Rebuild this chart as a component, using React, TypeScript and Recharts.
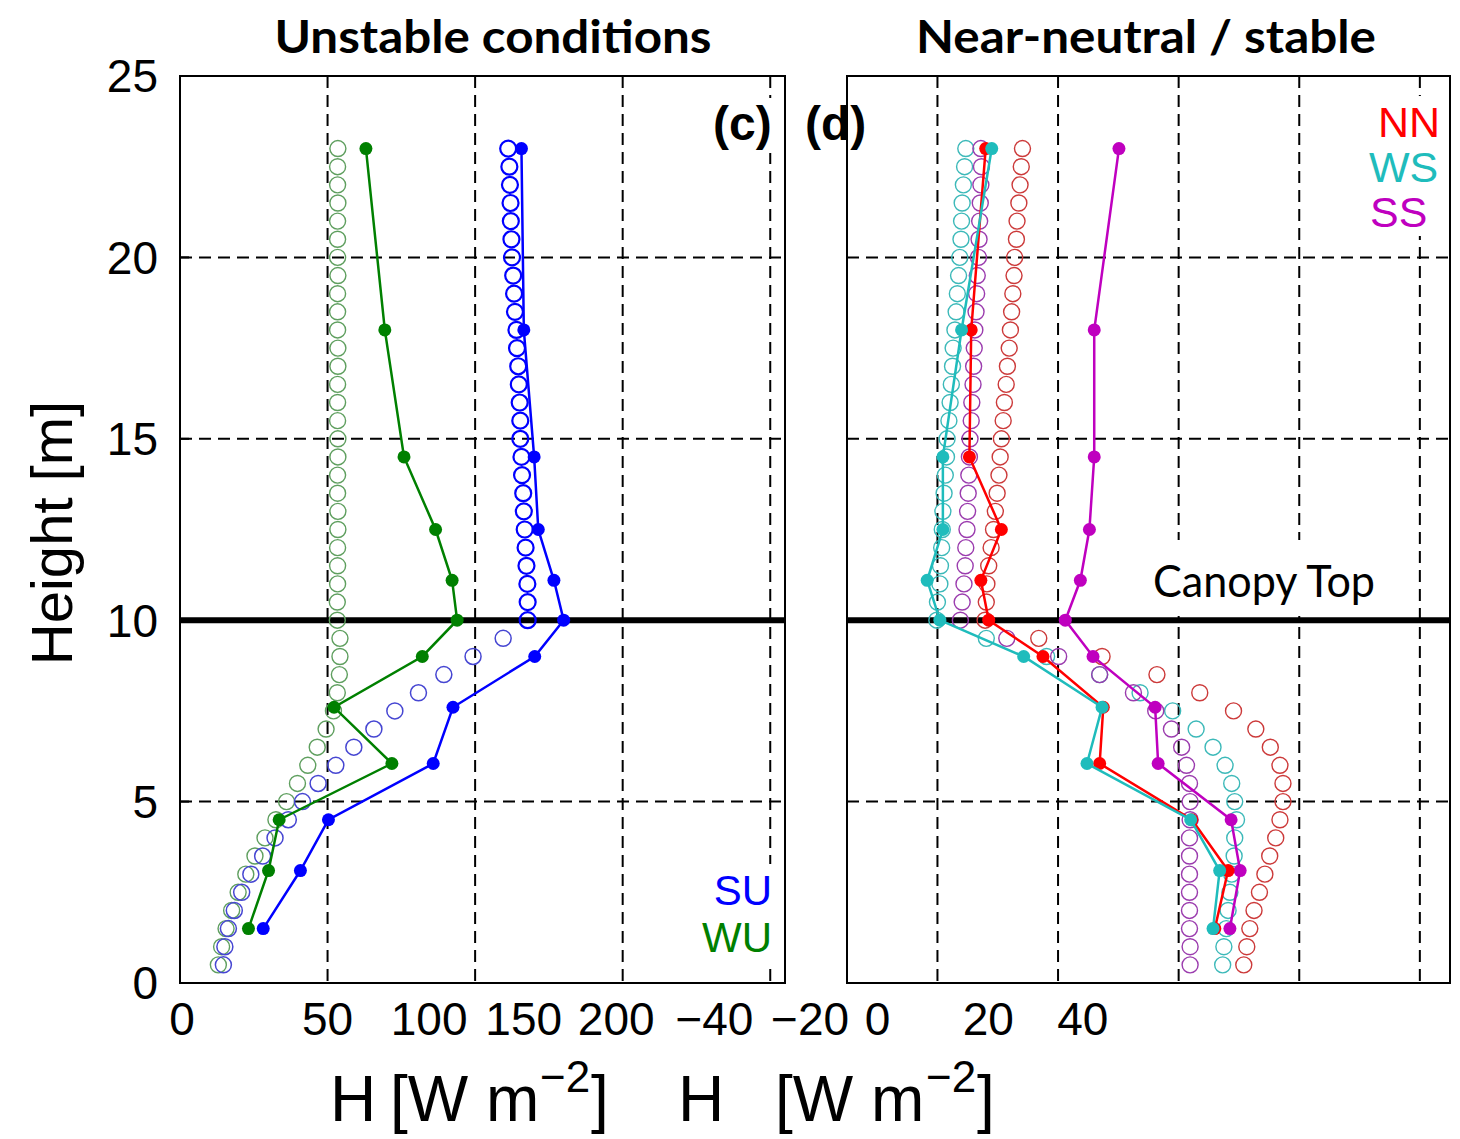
import React from 'react';
import {
  ScatterChart,
  Scatter,
  XAxis,
  YAxis,
  CartesianGrid,
  ReferenceLine,
  ReferenceArea,
} from 'recharts';

// heights [m] of the tower levels (filled, joined markers)
const profileHeights = [1.5, 3.1, 4.5, 6.05, 7.6, 9, 10, 11.1, 12.5, 14.5, 18, 23];
// heights [m] of the model levels (open markers)
const fineHeights = [
  0.5, 1, 1.5, 2, 2.5, 3, 3.5, 4, 4.5, 5, 5.5, 6, 6.5, 7, 7.5, 8, 8.5, 9, 9.5, 10, 10.5,
  11, 11.5, 12, 12.5, 13, 13.5, 14, 14.5, 15, 15.5, 16, 16.5, 17, 17.5, 18, 18.5, 19, 19.5,
  20, 20.5, 21, 21.5, 22, 22.5, 23,
];

// (c) unstable, H [W m-2]
const suProfile = [28.2, 40.8, 50.3, 85.8, 92.5, 120.2, 130.0, 126.7, 121.4, 120.0, 116.5, 115.7];
const wuProfile = [23.2, 30.0, 33.6, 71.8, 52.2, 82.1, 93.9, 92.2, 86.6, 75.9, 69.4, 63.0];
const suModel = [
  14.7, 15.2, 16.4, 18.4, 20.9, 24.0, 28.0, 32.2, 36.7, 41.5, 46.8, 52.8, 58.9, 65.7, 72.8,
  80.8, 89.4, 99.3, 109.5, 117.8, 117.8, 117.7, 117.4, 117.1, 116.8, 116.5, 116.3, 115.9,
  115.7, 115.3, 115.3, 115.1, 114.8, 114.6, 114.2, 114.0, 113.5, 113.2, 112.9, 112.5, 112.3,
  112.1, 112.0, 111.8, 111.6, 111.2,
];
const wuModel = [
  13.0, 14.1, 15.6, 17.5, 19.7, 22.3, 25.4, 28.8, 32.5, 36.1, 39.8, 43.3, 46.5, 49.5, 52.0,
  53.3, 54.0, 54.2, 54.2, 53.3, 53.3, 53.4, 53.4, 53.4, 53.5, 53.5, 53.4, 53.4, 53.5, 53.5,
  53.4, 53.4, 53.4, 53.5, 53.5, 53.4, 53.4, 53.4, 53.5, 53.4, 53.4, 53.4, 53.5, 53.4, 53.4,
  53.5,
];

// (d) near-neutral / stable, H [W m-2]
const nnProfile = [6.0, 8.2, 2.2, -13.1, -12.5, -22.5, -31.5, -32.8, -29.4, -34.7, -34.4, -32.0];
const wsProfile = [5.7, 6.8, 2.0, -15.2, -12.7, -25.7, -39.6, -41.7, -39.1, -39.1, -36.0, -31.0];
const ssProfile = [8.5, 10.2, 8.7, -3.4, -3.9, -14.2, -18.8, -16.3, -14.8, -14.0, -14.0, -9.9];
const nnModel = [
  10.8, 11.3, 11.8, 12.5, 13.4, 14.3, 15.1, 16.1, 16.8, 17.3, 17.3, 16.8, 15.2, 12.8, 9.1,
  3.5, -3.6, -12.7, -23.2, -32.1, -31.9, -31.8, -31.5, -31.1, -30.7, -30.4, -30.1, -29.8,
  -29.6, -29.4, -29.1, -28.9, -28.6, -28.4, -28.1, -27.9, -27.7, -27.5, -27.3, -27.2, -26.9,
  -26.8, -26.5, -26.3, -26.1, -25.9,
];
const wsModel = [
  7.3, 7.5, 7.9, 8.2, 8.5, 8.8, 9.2, 9.3, 9.6, 9.3, 8.8, 7.7, 5.7, 2.9, -1.0, -6.4, -13.1,
  -21.9, -31.9, -40.1, -40.0, -39.6, -39.5, -39.3, -39.2, -39.1, -38.9, -38.7, -38.5, -38.4,
  -38.1, -37.9, -37.7, -37.5, -37.4, -37.1, -36.9, -36.7, -36.5, -36.3, -36.1, -36.0, -35.9,
  -35.7, -35.5, -35.3,
];
const ssModel = [
  1.9, 1.9, 1.8, 1.8, 1.8, 1.8, 1.8, 1.8, 1.9, 1.9, 1.8, 1.3, 0.5, -1.2, -3.8, -7.5, -13.1,
  -19.9, -28.5, -36.2, -35.9, -35.6, -35.4, -35.3, -35.1, -35.0, -34.9, -34.8, -34.7, -34.6,
  -34.4, -34.3, -34.1, -34.0, -33.9, -33.8, -33.6, -33.5, -33.4, -33.2, -33.1, -33.0, -32.9,
  -32.8, -32.7, -32.8,
];

const heightTicks = [0, 5, 10, 15, 20, 25];
const leftTicks = [0, 50, 100, 150, 200];
const rightTicks = [-40, -20, 0, 20, 40];
const canopyHeight = 10;

// the tick labels in the figure sit off their grid lines; horizontal shift in px
const leftLabelShift: Record<number, number> = { 0: 2, 50: 0, 100: -46, 150: -99, 200: -154 };
const rightLabelShift: Record<number, number> = { '-40': -223, '-20': -248, 0: -301, 20: -311, 40: -337 };

const ARIAL = '"Liberation Sans", Arial, sans-serif';
const CALIBRI = 'Lato, "Open Sans", sans-serif';

const toPoints = (heights: number[], values: number[]) =>
  values.map((v, i) => ({ x: v, y: heights[i] }));

const dot = (fill: string) => (p: any) => <circle cx={p.cx} cy={p.cy} r={6.5} fill={fill} />;
const ring = (stroke: string, width: number) => (p: any) =>
  <circle cx={p.cx} cy={p.cy} r={8} fill="none" stroke={stroke} strokeWidth={width} />;
// SU model circles are drawn heavier above the canopy
const suRing = (p: any) => {
  const above = (p.payload?.y ?? 0) >= canopyHeight;
  return (
    <circle cx={p.cx} cy={p.cy} r={8} fill="none"
      stroke={above ? '#0000ff' : '#4646d2'} strokeWidth={above ? 2.2 : 1.5} />
  );
};

const makeTick = (shift: Record<number, number>) => (props: any) => {
  const { x, y, payload } = props;
  const v = payload.value;
  const label = v < 0 ? `\u2212${Math.abs(v)}` : `${v}`;
  return (
    <text x={x + (shift[v] ?? 0)} y={y} dy={52} textAnchor="middle"
      fontFamily={ARIAL} fontSize={46} fill="#000">
      {label}
    </text>
  );
};

const gridProps = { stroke: '#000', strokeWidth: 2, strokeDasharray: '12 7' };

export default function App() {
  return (
    <div style={{ position: 'absolute', left: 0, top: 0, width: 1460, height: 1139, background: '#fff' }}>
      {/* (c) unstable */}
      <div style={{ position: 'absolute', left: 0, top: 0 }}>
        <ScatterChart width={800} height={1139} margin={{ top: 76, right: 15, bottom: 96, left: 80 }}>
          <CartesianGrid {...gridProps} />
          <XAxis type="number" dataKey="x" domain={[0, 205]} ticks={leftTicks} allowDataOverflow
            axisLine={false} tickLine={false} tickSize={0} tickMargin={0} height={60}
            tick={makeTick(leftLabelShift)} />
          <YAxis type="number" dataKey="y" domain={[0, 25]} ticks={heightTicks} width={100}
            axisLine={false} tickSize={-9} tickMargin={31}
            tickLine={{ stroke: '#000', strokeWidth: 2 }}
            tick={{ fontSize: 46, fill: '#000', fontFamily: ARIAL }} />
          <ReferenceArea x1={0} x2={205} y1={0} y2={25} fill="none" stroke="#000" strokeWidth={2} />
          <ReferenceLine y={canopyHeight} stroke="#000" strokeWidth={6} />
          <Scatter data={toPoints(fineHeights, wuModel)} shape={ring('#5f9f5f', 1.4)} isAnimationActive={false} />
          <Scatter data={toPoints(fineHeights, suModel)} shape={suRing} isAnimationActive={false} />
          <Scatter data={toPoints(profileHeights, wuProfile)} shape={dot('#008000')}
            line={{ stroke: '#008000', strokeWidth: 2.5 }} isAnimationActive={false} />
          <Scatter data={toPoints(profileHeights, suProfile)} shape={dot('#0000ff')}
            line={{ stroke: '#0000ff', strokeWidth: 2.5 }} isAnimationActive={false} />
        </ScatterChart>
      </div>

      {/* (d) near-neutral / stable */}
      <div style={{ position: 'absolute', left: 600, top: 0 }}>
        <ScatterChart width={860} height={1139} margin={{ top: 76, right: 10, bottom: 96, left: 247 }}>
          <CartesianGrid {...gridProps} />
          <XAxis type="number" dataKey="x" domain={[-55, 45]} ticks={rightTicks} allowDataOverflow
            axisLine={false} tickLine={false} tickSize={0} tickMargin={0} height={60}
            tick={makeTick(rightLabelShift)} />
          <YAxis type="number" dataKey="y" domain={[0, 25]} ticks={heightTicks} hide />
          <ReferenceArea x1={-55} x2={45} y1={0} y2={25} fill="none" stroke="#000" strokeWidth={2} />
          <ReferenceLine y={canopyHeight} stroke="#000" strokeWidth={6} />
          <Scatter data={toPoints(fineHeights, nnModel)} shape={ring('#cc3a3a', 1.4)} isAnimationActive={false} />
          <Scatter data={toPoints(fineHeights, wsModel)} shape={ring('#3cb9b9', 1.4)} isAnimationActive={false} />
          <Scatter data={toPoints(fineHeights, ssModel)} shape={ring('#9b3cae', 1.4)} isAnimationActive={false} />
          <Scatter data={toPoints(profileHeights, ssProfile)} shape={dot('#bf00bf')}
            line={{ stroke: '#bf00bf', strokeWidth: 2.5 }} isAnimationActive={false} />
          <Scatter data={toPoints(profileHeights, nnProfile)} shape={dot('#ff0000')}
            line={{ stroke: '#ff0000', strokeWidth: 2.5 }} isAnimationActive={false} />
          <Scatter data={toPoints(profileHeights, wsProfile)} shape={dot('#1fbcbc')}
            line={{ stroke: '#1fbcbc', strokeWidth: 2.5 }} isAnimationActive={false} />
        </ScatterChart>
      </div>

      {/* titles, panel letters, legends, axis titles */}
      <svg width={1460} height={1139} style={{ position: 'absolute', left: 0, top: 0, pointerEvents: 'none' }}>
        {/* white backing boxes that hide the grid behind labels */}
        <g fill="#fff">
          <rect x={705} y={98} width={74} height={55} />
          <rect x={698} y={864} width={82} height={100} />
          <rect x={1364} y={96} width={82} height={140} />
          <rect x={1142} y={540} width={252} height={76} />
        </g>

        <text x={493} y={53} textAnchor="middle" fontFamily={CALIBRI} fontWeight="bold" fontSize={46}
          textLength={437} lengthAdjust="spacingAndGlyphs">Unstable conditions</text>
        <text x={1146} y={53} textAnchor="middle" fontFamily={CALIBRI} fontWeight="bold" fontSize={46}
          textLength={460} lengthAdjust="spacingAndGlyphs">Near-neutral / stable</text>

        <text x={713} y={140} fontFamily={ARIAL} fontWeight="bold" fontSize={48}>(c)</text>
        <text x={805} y={140} fontFamily={ARIAL} fontWeight="bold" fontSize={48}>(d)</text>
        {/* panel (d) border runs through its letter */}
        <line x1={847} y1={100} x2={847} y2={150} stroke="#000" strokeWidth={2} />

        <text x={772} y={905} textAnchor="end" fontFamily={ARIAL} fontSize={42} fill="#0000ff">SU</text>
        <text x={772} y={952} textAnchor="end" fontFamily={ARIAL} fontSize={42} fill="#008000">WU</text>

        <text x={1378} y={137} fontFamily={ARIAL} fontSize={43} fill="#ff0000">NN</text>
        <text x={1369} y={182} fontFamily={ARIAL} fontSize={43} fill="#1fbcbc">WS</text>
        <text x={1370} y={227} fontFamily={ARIAL} fontSize={43} fill="#bf00bf">SS</text>

        <text x={1153} y={597} fontFamily={CALIBRI} fontSize={44}
          textLength={222} lengthAdjust="spacingAndGlyphs">Canopy Top</text>

        <text transform="translate(72,533) rotate(-90)" textAnchor="middle" fontFamily={ARIAL} fontSize={58}>
          Height [m]
        </text>

        <g fontFamily={ARIAL} fill="#000">
          <text x={330} y={1121} fontSize={64}>H</text>
          <text x={390} y={1121} fontSize={64}>[W m</text>
          <text x={540} y={1092} fontSize={44}>{'\u2212'}2</text>
          <text x={591} y={1121} fontSize={64}>]</text>
          <text x={678} y={1121} fontSize={64}>H</text>
          <text x={775} y={1121} fontSize={64}>[W m</text>
          <text x={926} y={1092} fontSize={44}>{'\u2212'}2</text>
          <text x={977} y={1121} fontSize={64}>]</text>
        </g>
      </svg>
    </div>
  );
}
